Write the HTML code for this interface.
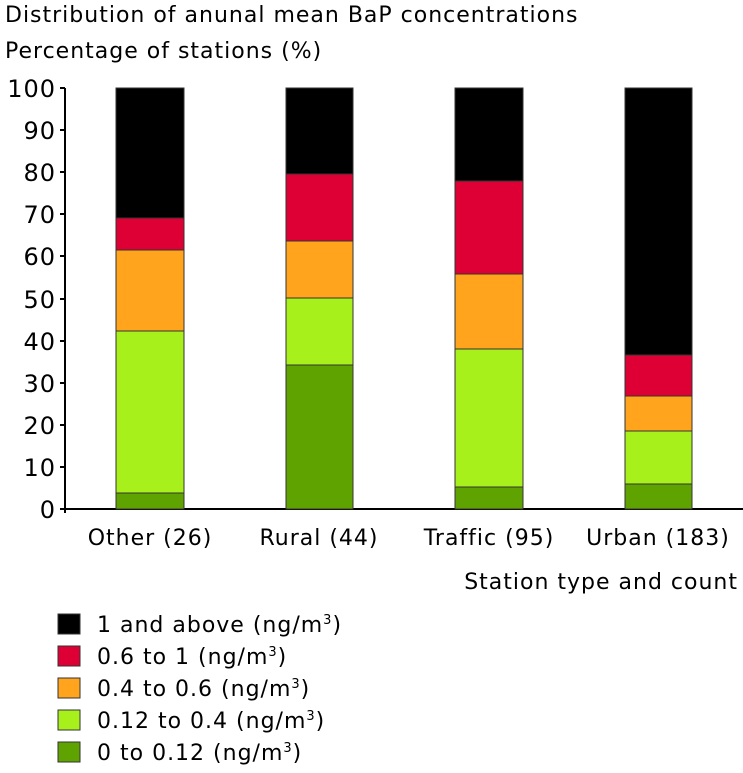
<!DOCTYPE html><html><head><style>body{margin:0;background:#fff}text{font-family:"DejaVu Sans","Liberation Sans",sans-serif;fill:#000;letter-spacing:1px}</style></head><body>
<svg width="743" height="768" xmlns="http://www.w3.org/2000/svg">
<text x="5" y="22" font-size="22">Distribution of anunal mean BaP concentrations</text>
<text x="5" y="58" font-size="22">Percentage of stations (%)</text>
<g font-size="24" text-anchor="end">
<text x="56" y="518">0</text><text x="56" y="476">10</text><text x="56" y="434">20</text><text x="56" y="392">30</text><text x="56" y="350">40</text><text x="56" y="308">50</text><text x="56" y="265">60</text><text x="56" y="223">70</text><text x="56" y="181">80</text><text x="56" y="139">90</text><text x="56" y="97">100</text></g>
<g stroke="#000" stroke-width="2"><line x1="65" y1="88" x2="65" y2="513"/><line x1="64" y1="509" x2="743" y2="509"/>
<line x1="60" y1="509" x2="65" y2="509"/><line x1="60" y1="467" x2="65" y2="467"/><line x1="60" y1="425" x2="65" y2="425"/><line x1="60" y1="383" x2="65" y2="383"/><line x1="60" y1="341" x2="65" y2="341"/><line x1="60" y1="299" x2="65" y2="299"/><line x1="60" y1="256" x2="65" y2="256"/><line x1="60" y1="214" x2="65" y2="214"/><line x1="60" y1="172" x2="65" y2="172"/><line x1="60" y1="130" x2="65" y2="130"/><line x1="60" y1="88" x2="65" y2="88"/></g>
<g stroke="#333" stroke-width="1">
<rect x="116" y="88" width="68" height="130" fill="#000"/><rect x="116" y="218" width="68" height="32" fill="#de0034"/><rect x="116" y="250" width="68" height="81" fill="#ffa41c"/><rect x="116" y="331" width="68" height="162" fill="#a8f01c"/><rect x="116" y="493" width="68" height="16" fill="#5fa300"/>
<rect x="286" y="88" width="67" height="86" fill="#000"/><rect x="286" y="174" width="67" height="67" fill="#de0034"/><rect x="286" y="241" width="67" height="57" fill="#ffa41c"/><rect x="286" y="298" width="67" height="67" fill="#a8f01c"/><rect x="286" y="365" width="67" height="144" fill="#5fa300"/>
<rect x="455" y="88" width="68" height="93" fill="#000"/><rect x="455" y="181" width="68" height="93" fill="#de0034"/><rect x="455" y="274" width="68" height="75" fill="#ffa41c"/><rect x="455" y="349" width="68" height="138" fill="#a8f01c"/><rect x="455" y="487" width="68" height="22" fill="#5fa300"/>
<rect x="625" y="88" width="67" height="267" fill="#000"/><rect x="625" y="355" width="67" height="41" fill="#de0034"/><rect x="625" y="396" width="67" height="35" fill="#ffa41c"/><rect x="625" y="431" width="67" height="53" fill="#a8f01c"/><rect x="625" y="484" width="67" height="25" fill="#5fa300"/>
</g>
<g font-size="22" text-anchor="middle"><text x="150" y="545">Other (26)</text><text x="319" y="545">Rural (44)</text><text x="489" y="545">Traffic (95)</text><text x="658" y="545">Urban (183)</text></g>
<text x="738" y="589" font-size="22" text-anchor="end">Station type and count</text>
<g stroke="#333" stroke-width="1">
<rect x="58" y="614" width="22" height="20" fill="#000"/><rect x="58" y="646" width="22" height="20" fill="#de0034"/><rect x="58" y="678" width="22" height="20" fill="#ffa41c"/><rect x="58" y="710" width="22" height="20" fill="#a8f01c"/><rect x="58" y="742" width="22" height="20" fill="#5fa300"/></g>
<g font-size="22"><text x="97" y="632">1 and above (ng/m<tspan font-size="13" dy="-8">3</tspan><tspan dy="8">)</tspan></text>
<text x="97" y="664">0.6 to 1 (ng/m<tspan font-size="13" dy="-8">3</tspan><tspan dy="8">)</tspan></text>
<text x="97" y="696">0.4 to 0.6 (ng/m<tspan font-size="13" dy="-8">3</tspan><tspan dy="8">)</tspan></text>
<text x="97" y="728">0.12 to 0.4 (ng/m<tspan font-size="13" dy="-8">3</tspan><tspan dy="8">)</tspan></text>
<text x="97" y="760">0 to 0.12 (ng/m<tspan font-size="13" dy="-8">3</tspan><tspan dy="8">)</tspan></text></g>
</svg></body></html>
